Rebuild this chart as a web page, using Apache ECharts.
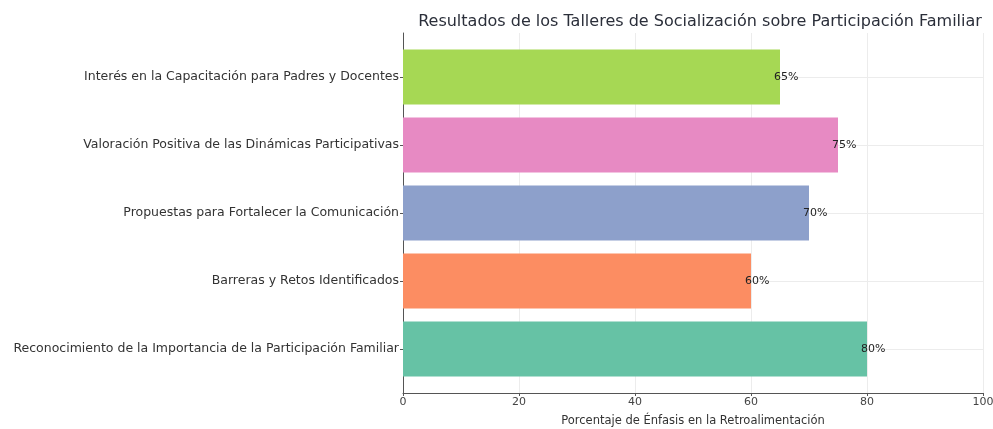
<!DOCTYPE html>
<html>
<head>
<meta charset="utf-8">
<script src="https://cdn.jsdelivr.net/npm/echarts@6/dist/echarts.min.js"></script>
<style>
  html, body { margin: 0; padding: 0; background: #fff; }
  #main { width: 993px; height: 429px; }
</style>
</head>
<body>
<div id="main"></div>
<script>
// categorias de abajo hacia arriba
var categorias = [
  'Reconocimiento de la Importancia de la Participación Familiar',
  'Barreras y Retos Identificados',
  'Propuestas para Fortalecer la Comunicación',
  'Valoración Positiva de las Dinámicas Participativas',
  'Interés en la Capacitación para Padres y Docentes'
];
var valores = [80, 60, 70, 75, 65];
var colores = ['#66c2a5', '#fc8d62', '#8da0cb', '#e78ac3', '#a6d854'];
var ticksX = [0, 20, 40, 60, 80, 100];

var chart = echarts.init(document.getElementById('main'));
var fuente = 'DejaVu Sans';

chart.setOption({
  animation: false,
  title: {
    text: 'Resultados de los Talleres de Socialización sobre Participación Familiar',
    left: 695, top: 9, textAlign: 'center',
    textStyle: { fontFamily: fuente, fontSize: 16, fontWeight: 'normal', color: '#2b2f3a' }
  },
  grid: [
    // marco de ejes (0..100)
    { left: 403, right: 10, top: 33, bottom: 36, outerBoundsMode: 'none', containLabel: false },
    // barras
    { left: 403, right: 10, top: 77, bottom: 80, outerBoundsMode: 'none', containLabel: false }
  ],
  xAxis: [
    {
      gridIndex: 0, type: 'value', min: 0, max: 100, interval: 20,
      name: 'Porcentaje de Énfasis en la Retroalimentación',
      nameLocation: 'middle', nameGap: 22,
      nameTextStyle: { fontFamily: fuente, fontSize: 11.5, color: '#333' },
      axisLine: { show: true, lineStyle: { color: '#555', width: 1 } },
      axisTick: { show: true, length: 3, lineStyle: { color: '#555' } },
      axisLabel: {
        fontFamily: fuente, fontSize: 11, color: '#444', margin: 4,
        formatter: function (v) { return ticksX.indexOf(v) >= 0 ? String(v) : ''; }
      },
      splitLine: { show: true, lineStyle: { color: '#ececec', width: 1 } }
    },
    {
      gridIndex: 1, type: 'value', min: 0, max: 100,
      axisLine: { show: false }, axisTick: { show: false },
      axisLabel: { show: false }, splitLine: { show: false }
    }
  ],
  yAxis: [
    {
      gridIndex: 0, type: 'value', min: 0, max: 1,
      axisLine: { show: true, lineStyle: { color: '#555', width: 1 } },
      axisTick: { show: false }, axisLabel: { show: false },
      splitLine: { show: false }
    },
    {
      gridIndex: 1, type: 'category', data: categorias, boundaryGap: false,
      axisLine: { show: false },
      axisTick: { show: true, length: 3, lineStyle: { color: '#555' } },
      axisLabel: { fontFamily: fuente, fontSize: 12.5, color: '#333', margin: 4 },
      splitLine: { show: true, lineStyle: { color: '#ececec', width: 1 } }
    }
  ],
  series: [{
    type: 'bar',
    xAxisIndex: 1, yAxisIndex: 1,
    clip: false,
    barWidth: 55,
    data: valores.map(function (v, i) {
      return { value: v, itemStyle: { color: colores[i] } };
    }),
    label: {
      show: true, position: 'right', distance: -6,
      fontFamily: fuente, fontSize: 11, color: '#222',
      formatter: function (p) { return p.value + '%'; }
    }
  }]
});
</script>
</body>
</html>
